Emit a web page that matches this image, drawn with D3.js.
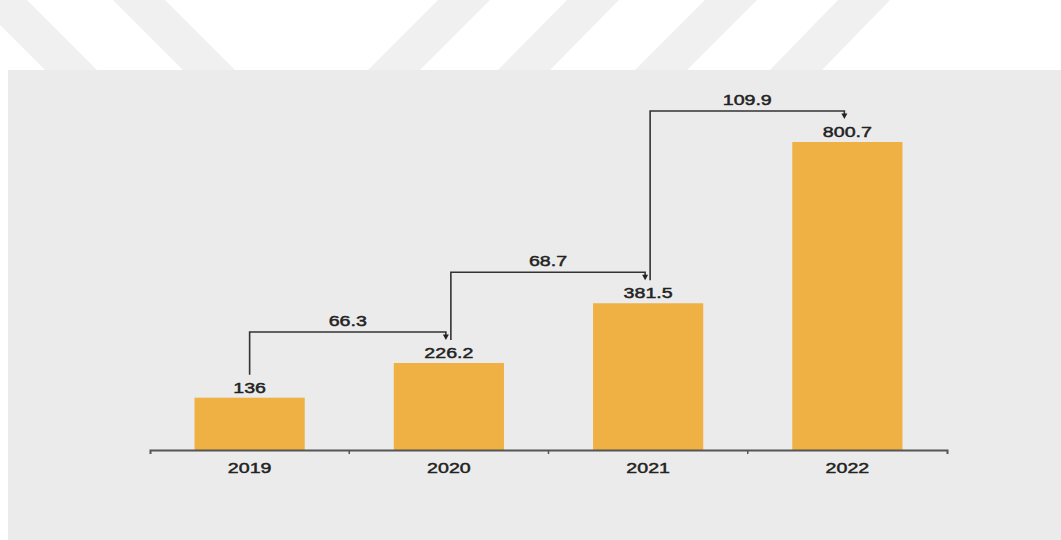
<!DOCTYPE html>
<html>
<head>
<meta charset="utf-8">
<script src="https://cdn.jsdelivr.net/npm/d3@7"></script>
<style>
  body { margin: 0; background: #ffffff; }
  svg { display: block; }
  text { font-family: "Liberation Sans", Arial, sans-serif; fill: #222; stroke: #222; stroke-width: 0.45px; }
</style>
</head>
<body>
<div id="container"></div>
<script>
var WIDTH = 1061,
	HEIGHT = 540,
	PANEL_LEFT = 8,
	PANEL_TOP = 70,
	AXIS_Y = 450,
	STRETCH = 1.4;

var years = ["2019", "2020", "2021", "2022"];
var values = [136, 226.2, 381.5, 800.7];
var valueLabels = ["136", "226.2", "381.5", "800.7"];
var growthLabels = ["66.3", "68.7", "109.9"];

// background stripes behind the panel: [x at top, x at panel top]
var stripes = [[-25, 45], [113, 183], [438, 368], [567, 498], [705, 635], [838, 770]];
var STRIPE_W = 52;

var xScale = d3.scaleBand().domain(years).range([150, 947]).padding(0);
var yScale = d3.scaleLinear().domain([0, 800.7]).range([AXIS_Y, 142]);
var barWidth = xScale.bandwidth() * 0.553;

var center = function (d) { return xScale(d) + xScale.bandwidth() / 2; };
var stretchAt = function (x, y) {
	return "translate(" + x + "," + y + ") scale(" + STRETCH + ",1)";
};

var svg = d3.select('#container')
	.append('svg')
	.attr('width', WIDTH)
	.attr('height', HEIGHT);

function drawBackground(svg) {
	svg.selectAll('polygon.stripe').data(stripes).enter()
		.append('polygon')
		.classed('stripe', true)
		.attr('points', function (d) {
			return [[d[0], 0], [d[0] + STRIPE_W, 0], [d[1] + STRIPE_W, PANEL_TOP], [d[1], PANEL_TOP]].join(' ');
		})
		.attr('fill', '#f0f0f0');
	svg.append('rect')
		.attr('x', PANEL_LEFT)
		.attr('y', PANEL_TOP)
		.attr('width', WIDTH - PANEL_LEFT)
		.attr('height', HEIGHT - PANEL_TOP)
		.attr('fill', '#ebebeb');
}

function drawBars(svg) {
	svg.selectAll('rect.bar').data(years).enter()
		.append('rect')
		.classed('bar', true)
		.attr('x', function (d) { return center(d) - barWidth / 2; })
		.attr('y', function (d, i) { return yScale(values[i]); })
		.attr('width', barWidth)
		.attr('height', function (d, i) { return AXIS_Y - yScale(values[i]); })
		.attr('fill', '#efb143');

	svg.selectAll('text.value').data(years).enter()
		.append('text')
		.classed('value', true)
		.attr('transform', function (d, i) { return stretchAt(center(d), yScale(values[i]) - 5); })
		.attr('text-anchor', 'middle')
		.style('font-size', '14px')
		.text(function (d, i) { return valueLabels[i]; });
}

function drawAxis(svg) {
	var axis = d3.axisBottom(xScale).tickSize(0).tickSizeOuter(4).tickPadding(0);
	var g = svg.append('g')
		.attr('transform', 'translate(0,' + AXIS_Y + ')')
		.call(axis);
	g.select('.domain').attr('stroke', '#555').attr('stroke-width', 2);
	g.selectAll('.tick text')
		.attr('y', 23)
		.attr('dy', 0)
		.attr('transform', 'scale(' + STRETCH + ',1)')
		.style('font-size', '14px')
		.style('fill', '#222');
	// ticks between the bands
	g.selectAll('line.sep').data(years.slice(1)).enter()
		.append('line')
		.classed('sep', true)
		.attr('x1', function (d) { return xScale(d); })
		.attr('x2', function (d) { return xScale(d); })
		.attr('y1', 0)
		.attr('y2', 4)
		.attr('stroke', '#555')
		.attr('stroke-width', 1.5);
}

function drawGrowth(svg) {
	var pairs = growthLabels.map(function (g, i) {
		return {
			label: g,
			x0: center(years[i]) + (i === 0 ? 0 : 2),
			x1: center(years[i + 1]) - 3,
			yStart: yScale(values[i]) - 23,
			yTop: yScale(values[i + 1]) - 31,
			yEnd: yScale(values[i + 1]) - 23
		};
	});
	var line = d3.line();
	var g = svg.selectAll('g.growth').data(pairs).enter()
		.append('g')
		.classed('growth', true);
	g.append('path')
		.attr('d', function (d) {
			return line([[d.x0, d.yStart], [d.x0, d.yTop], [d.x1, d.yTop], [d.x1, d.yEnd - 5]]);
		})
		.attr('fill', 'none')
		.attr('stroke', '#333')
		.attr('stroke-width', 1.6);
	g.append('path')
		.attr('d', function (d) {
			return line([[d.x1 - 3, d.yEnd - 5.5], [d.x1 + 3, d.yEnd - 5.5], [d.x1, d.yEnd]]) + 'Z';
		})
		.attr('fill', '#222');
	g.append('text')
		.attr('transform', function (d) { return stretchAt((d.x0 + d.x1) / 2, d.yTop - 6); })
		.attr('text-anchor', 'middle')
		.style('font-size', '14px')
		.text(function (d) { return d.label; });
}

drawBackground(svg);
drawBars(svg);
drawAxis(svg);
drawGrowth(svg);
</script>
</body>
</html>
